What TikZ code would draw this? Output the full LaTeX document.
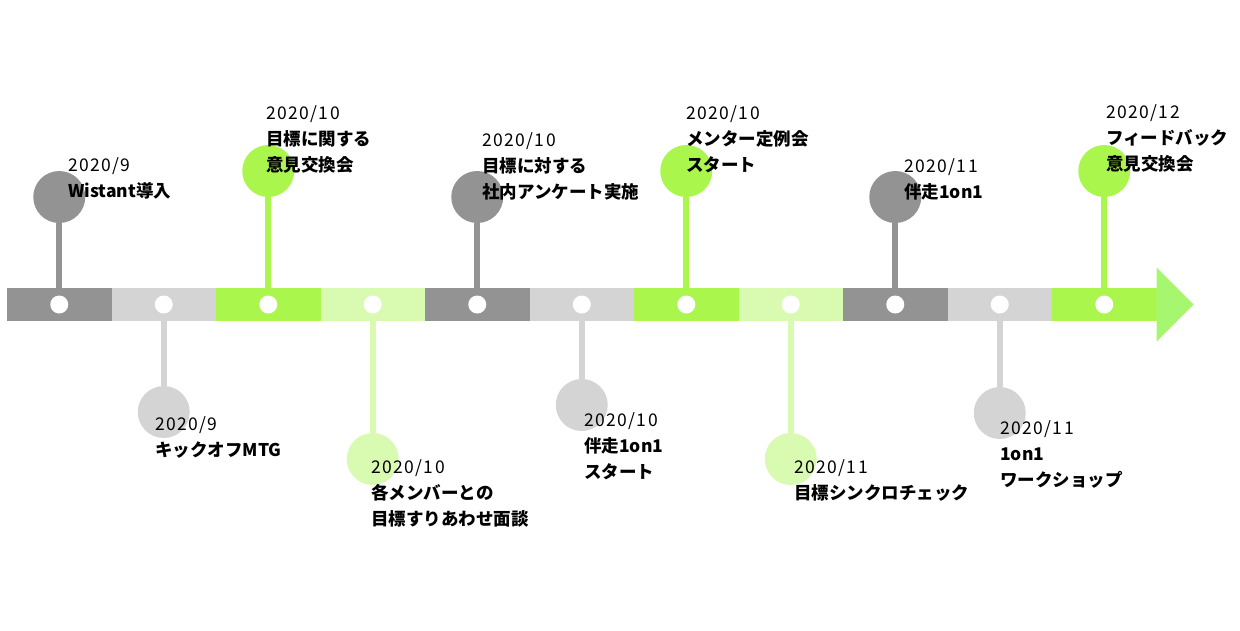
\documentclass[tikz,border=0pt]{standalone}
\usepackage{fontspec}
\setmainfont{Noto Sans CJK JP}
\newfontfamily\datefont{Noto Sans CJK JP}[LetterSpace=8]
\usepackage{tikz}
\usetikzlibrary{positioning,calc}

\definecolor{dkgray}{HTML}{939393}
\definecolor{ltgray}{HTML}{D4D4D4}
\definecolor{grn}{HTML}{AAF64C}
\definecolor{ltgrn}{HTML}{D8FAB1}
\definecolor{headgrn}{HTML}{A6F76F}

\begin{document}
\begin{tikzpicture}[x=1pt, y=-1pt,
  node distance=0pt,
  seg/.style={rectangle, minimum width=104.5pt, minimum height=33pt, inner sep=0pt, outer sep=0pt},
  dot/.style={circle, fill=white, minimum size=18pt, inner sep=0pt},
  evt/.style={circle, minimum size=52pt, inner sep=0pt, outer sep=0pt},
  stem/.style={line width=6pt},
  lbl/.style={anchor=north west, align=left, inner sep=0pt, font=\fontsize{17.5}{26}\selectfont}
]
\useasboundingbox (0,0) rectangle (1240,630);
% time bar
\node[seg, fill=dkgray] (s1) at (59.25,304.5) {};
\node[seg, fill=ltgray, right=of s1] (s2) {};
\node[seg, fill=grn, right=of s2] (s3) {};
\node[seg, fill=ltgrn, right=of s3] (s4) {};
\node[seg, fill=dkgray, right=of s4] (s5) {};
\node[seg, fill=ltgray, right=of s5] (s6) {};
\node[seg, fill=grn, right=of s6] (s7) {};
\node[seg, fill=ltgrn, right=of s7] (s8) {};
\node[seg, fill=dkgray, right=of s8] (s9) {};
\node[seg, fill=ltgray, right=of s9] (s10) {};
\node[seg, fill=grn, right=of s10] (s11) {};
\fill[headgrn] ($(s11.east)+(0,-37)$) -- ($(s11.east)+(37,0)$) -- ($(s11.east)+(0,37)$) -- cycle;
\foreach \i in {1,...,11} \node[dot] (d\i) at (s\i) {};
% events above
\node[evt, fill=dkgray, above=65pt of s1] (e1) {};
\node[evt, fill=grn, above=91pt of s3] (e3) {};
\node[evt, fill=dkgray, above=65pt of s5] (e5) {};
\node[evt, fill=grn, above=91pt of s7] (e7) {};
\node[evt, fill=dkgray, above=65pt of s9] (e9) {};
\node[evt, fill=grn, above=91pt of s11] (e11) {};
% events below
\node[evt, fill=ltgray, below=65pt of s2] (e2) {};
\node[evt, fill=ltgrn, below=112pt of s4] (e4) {};
\node[evt, fill=ltgray, below=58pt of s6] (e6) {};
\node[evt, fill=ltgrn, below=112pt of s8] (e8) {};
\node[evt, fill=ltgray, below=66pt of s10] (e10) {};
\draw[stem, dkgray] (e1) -- (s1.north); \draw[stem, grn] (e3) -- (s3.north);
\draw[stem, dkgray] (e5) -- (s5.north); \draw[stem, grn] (e7) -- (s7.north);
\draw[stem, dkgray] (e9) -- (s9.north); \draw[stem, grn] (e11) -- (s11.north);
\draw[stem, ltgray] (e2) -- (s2.south); \draw[stem, ltgrn] (e4) -- (s4.south);
\draw[stem, ltgray] (e6) -- (s6.south); \draw[stem, ltgrn] (e8) -- (s8.south);
\draw[stem, ltgray] (e10) -- (s10.south);
% labels
\node[lbl] (t1) at (68,157.5) {{\datefont 2020/9}\\\textbf{Wistant導入}};
\node[lbl] (t3) at (266,105.5) {{\datefont 2020/10}\\\textbf{目標に関する}\\\textbf{意見交換会}};
\node[lbl] (t5) at (482,132.5) {{\datefont 2020/10}\\\textbf{目標に対する}\\\textbf{社内アンケート実施}};
\node[lbl] (t7) at (686,105.5) {{\datefont 2020/10}\\\textbf{メンター定例会}\\\textbf{スタート}};
\node[lbl] (t9) at (904,158.5) {{\datefont 2020/11}\\\textbf{伴走1on1}};
\node[lbl] (t11) at (1106,104.5) {{\datefont 2020/12}\\\textbf{フィードバック}\\\textbf{意見交換会}};
\node[lbl] (t2) at (155,416.5) {{\datefont 2020/9}\\\textbf{キックオフMTG}};
\node[lbl] (t4) at (371,459.5) {{\datefont 2020/10}\\\textbf{各メンバーとの}\\\textbf{目標すりあわせ面談}};
\node[lbl] (t6) at (584,412.5) {{\datefont 2020/10}\\\textbf{伴走1on1}\\\textbf{スタート}};
\node[lbl] (t8) at (794,459.5) {{\datefont 2020/11}\\\textbf{目標シンクロチェック}};
\node[lbl] (t10) at (1000,420.5) {{\datefont 2020/11}\\\textbf{1on1}\\\textbf{ワークショップ}};
\end{tikzpicture}
\end{document}
